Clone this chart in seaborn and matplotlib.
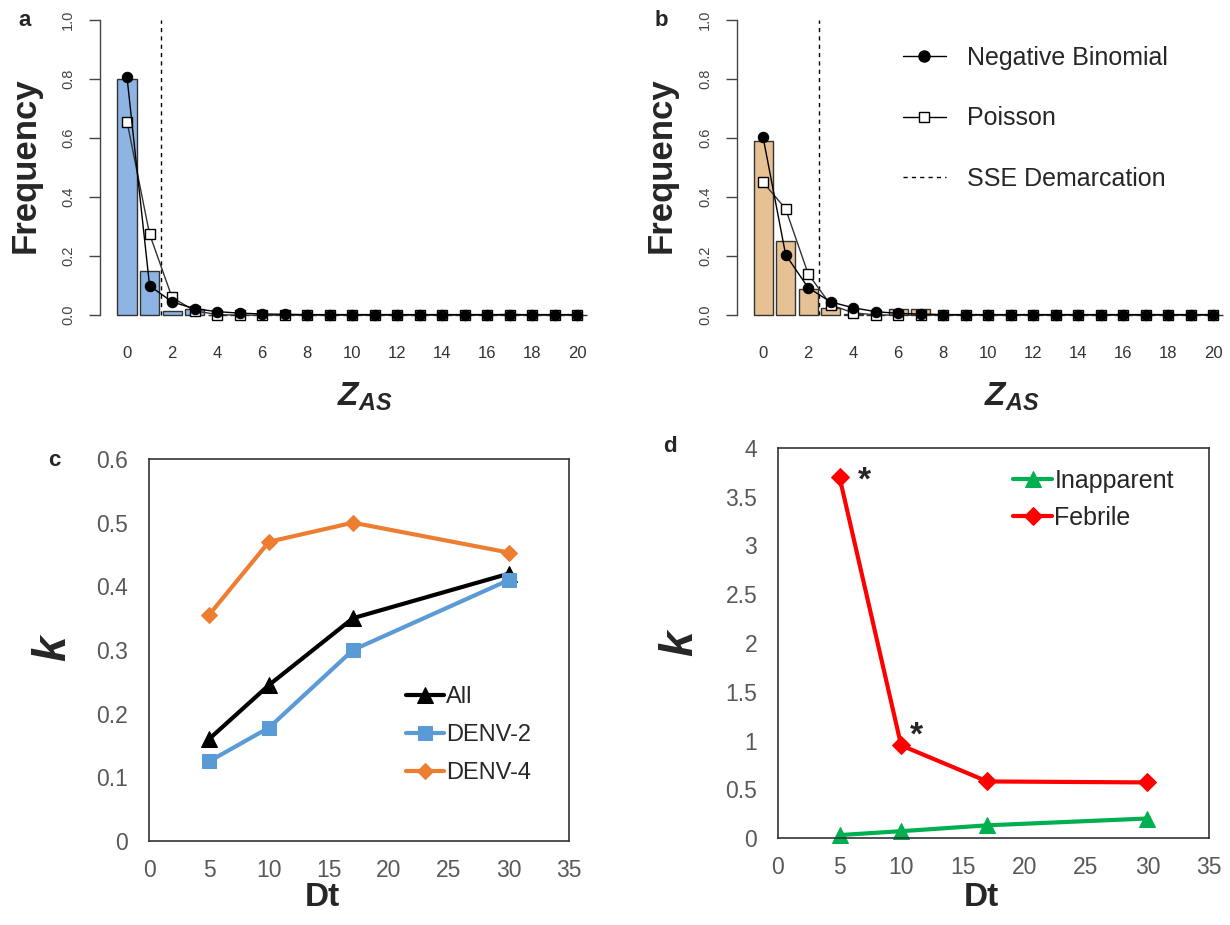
import numpy as np
import pandas as pd
import matplotlib
matplotlib.use("Agg")
import matplotlib.pyplot as plt
from matplotlib.lines import Line2D
import seaborn as sns

sns.set_theme(style="white")
plt.rcParams['font.family'] = ['Liberation Sans', 'DejaVu Sans']
plt.rcParams['mathtext.fontset'] = 'custom'
plt.rcParams['mathtext.rm'] = 'Liberation Sans'
plt.rcParams['mathtext.it'] = 'Liberation Sans:italic:bold'
plt.rcParams['mathtext.bf'] = 'Liberation Sans:bold'

# ---------------- data ----------------
z_values = list(range(21))
freq_a = [0.80, 0.15, 0.015, 0.02, 0, 0, 0, 0, 0, 0, 0, 0, 0, 0, 0, 0, 0, 0.005, 0, 0, 0]
nb_a = [0.805, 0.10, 0.045, 0.022, 0.012, 0.007, 0.004, 0.003, 0.002, 0.002, 0.002,
        0.002, 0.002, 0.002, 0.002, 0.002, 0.002, 0.002, 0.002, 0.002, 0.002]
pois_a = [0.655, 0.275, 0.06, 0.015, 0.002, 0, 0, 0, 0, 0, 0, 0, 0, 0, 0, 0, 0, 0, 0, 0, 0]
sse_a = 1.5

freq_b = [0.59, 0.25, 0.09, 0.025, 0.004, 0, 0.02, 0.02, 0, 0, 0, 0, 0, 0, 0, 0, 0, 0, 0, 0, 0]
nb_b = [0.602, 0.205, 0.093, 0.045, 0.025, 0.012, 0.006, 0.004, 0.002, 0.002, 0.002,
        0.002, 0.002, 0.002, 0.002, 0.002, 0.002, 0.002, 0.002, 0.002, 0.002]
pois_b = [0.45, 0.36, 0.14, 0.035, 0.008, 0.001, 0, 0, 0, 0, 0, 0, 0, 0, 0, 0, 0, 0, 0, 0, 0]
sse_b = 2.5

dt = [5, 10, 17, 30]
k_all = [0.16, 0.245, 0.35, 0.42]
k_denv2 = [0.125, 0.178, 0.30, 0.41]
k_denv4 = [0.355, 0.47, 0.50, 0.453]

k_inapparent = [0.03, 0.07, 0.13, 0.20]
k_febrile = [3.70, 0.95, 0.58, 0.57]
star_points = [0, 1]  # indices of febrile points flagged with *

freq_ticks = [0.0, 0.2, 0.4, 0.6, 0.8, 1.0]
z_ticks = list(range(0, 21, 2))
dt_ticks = [0, 5, 10, 15, 20, 25, 30, 35]
c_ticks = [0, 0.1, 0.2, 0.3, 0.4, 0.5, 0.6]
c_ticklabels = ["0", "0.1", "0.2", "0.3", "0.4", "0.5", "0.6"]
d_ticks = [0, 0.5, 1, 1.5, 2, 2.5, 3, 3.5, 4]
d_ticklabels = ["0", "0.5", "1", "1.5", "2", "2.5", "3", "3.5", "4"]

# ---------------- figure ----------------
W, H = 1230, 925
fig = plt.figure(figsize=(W / 100, H / 100), dpi=100)


def px_axes(l, t, r, b):
    return fig.add_axes([l / W, 1 - b / H, (r - l) / W, (b - t) / H])


def hist_panel(ax, freq, nb, pois, sse, color, xlim):
    sns.barplot(x=z_values, y=freq, native_scale=True, width=0.85, color=color,
                saturation=1, edgecolor="#333333", linewidth=1.0, ax=ax, zorder=2)
    sns.lineplot(x=z_values, y=pois, color="#333333", linewidth=1.0, marker="s",
                 markersize=6.5, markerfacecolor="white", markeredgecolor="black",
                 markeredgewidth=1.0, ax=ax, zorder=3, clip_on=False)
    sns.lineplot(x=z_values, y=nb, color="black", linewidth=1.0, marker="o",
                 markersize=7.5, markerfacecolor="black", markeredgecolor="black",
                 ax=ax, zorder=4, clip_on=False)
    ax.plot([sse, sse], [0, 1], color="black", linewidth=1.0, linestyle=(0, (3, 3)), zorder=1)
    ax.set_xlim(*xlim)
    ax.set_ylim(-0.04, 1.04)
    for s in ["top", "right", "bottom"]:
        ax.spines[s].set_visible(False)
    ax.spines["left"].set_bounds(0, 1)
    ax.spines["left"].set_color("#444444")
    ax.spines["left"].set_linewidth(1.0)
    ax.set_yticks(freq_ticks)
    ax.set_yticklabels([f"{v:.1f}" for v in freq_ticks], rotation=90, va="center",
                       fontsize=10.5, color="#444444")
    ax.tick_params(axis="y", length=8, width=1, color="#444444", pad=10, left=True)
    ax.set_xticks(z_ticks)
    ax.set_xticklabels([str(v) for v in z_ticks], fontsize=12, color="#333333")
    ax.tick_params(axis="x", length=0, pad=14)
    ax.set_xlabel("")
    ax.set_ylabel("")
    ax.grid(False)
    ax.patch.set_alpha(0)


ax_a = px_axes(100, 8, 600, 327)
hist_panel(ax_a, freq_a, nb_a, pois_a, sse_a, "#8EB4E3", (-1.2, 21.0))
ax_b = px_axes(737, 8, 1228, 327)
hist_panel(ax_b, freq_b, nb_b, pois_b, sse_b, "#E6C193", (-1.16, 20.65))

# legend for panel b
handles_b = [
    Line2D([], [], color="black", lw=1, marker="o", markersize=8, markerfacecolor="black"),
    Line2D([], [], color="black", lw=1, marker="s", markersize=7, markerfacecolor="white"),
    Line2D([], [], color="black", lw=1, linestyle=(0, (3, 3))),
]
ax_b.legend(handles_b, ["Negative Binomial", "Poisson", "SSE Demarcation"],
            loc="upper left", bbox_to_anchor=(903 / W, 1 - 46 / H), bbox_transform=fig.transFigure,
            frameon=False, fontsize=18, labelspacing=1.45, handlelength=1.7, handletextpad=0.85,
            borderpad=0, borderaxespad=0)

for xc in (365, 1012):
    fig.text(xc / W, 1 - 397 / H, r"$Z_{AS}$", fontsize=24, ha="center", va="center")
for xc in (25, 661):
    fig.text(xc / W, 1 - 165 / H, "Frequency", fontsize=25, fontweight="bold",
             rotation=90, ha="center", va="center")


def line_panel(ax, yticks, yticklabels, ylim):
    ax.set_xlim(0, 35)
    ax.set_ylim(*ylim)
    ax.set_xticks(dt_ticks)
    ax.set_xticklabels([str(v) for v in dt_ticks], fontsize=16.5, color="#595959")
    ax.set_yticks(yticks)
    ax.set_yticklabels(yticklabels, fontsize=16.5, color="#595959")
    ax.tick_params(axis="y", length=0, pad=15)
    ax.tick_params(axis="x", length=0, pad=13)
    for s in ax.spines.values():
        s.set_visible(True)
        s.set_color("#333333")
        s.set_linewidth(1.2)
    ax.set_xlabel("")
    ax.set_ylabel("")
    ax.grid(False)


# panel c
ax_c = px_axes(149, 459, 569, 841)
series_c = [("All", k_all, "black", "^", 11), ("DENV-2", k_denv2, "#5B9BD5", "s", 10),
            ("DENV-4", k_denv4, "#ED7D31", "D", 8)]
for name, vals, col, mk, ms in series_c:
    sns.lineplot(x=dt, y=vals, color=col, linewidth=3, marker=mk, markersize=ms,
                 markeredgecolor=col, markerfacecolor=col, label=name, ax=ax_c, clip_on=False)
line_panel(ax_c, c_ticks, c_ticklabels, (0, 0.6))
ax_c.legend(loc="upper left", bbox_to_anchor=(406 / W, 1 - 686 / H), bbox_transform=fig.transFigure,
            frameon=False, fontsize=17, labelspacing=0.68, handlelength=1.6, handletextpad=0.1,
            borderpad=0, borderaxespad=0)

# panel d
ax_d = px_axes(778, 448, 1209, 838)
series_d = [("Inapparent", k_inapparent, "#00B050", "^", 11), ("Febrile", k_febrile, "#FF0000", "D", 9)]
for name, vals, col, mk, ms in series_d:
    sns.lineplot(x=dt, y=vals, color=col, linewidth=3, marker=mk, markersize=ms,
                 markeredgecolor=col, markerfacecolor=col, label=name, ax=ax_d, clip_on=False)
line_panel(ax_d, d_ticks, d_ticklabels, (0, 4))
ax_d.legend(loc="upper left", bbox_to_anchor=(1013 / W, 1 - 469 / H), bbox_transform=fig.transFigure,
            frameon=False, fontsize=18, labelspacing=0.52, handlelength=1.56, handletextpad=0.1,
            borderpad=0, borderaxespad=0)
star_offsets = [(18, -3), (11, 7)]
for i, off in zip(star_points, star_offsets):
    ax_d.annotate("*", (dt[i], k_febrile[i]), xytext=off, textcoords="offset points",
                  fontsize=24, fontweight="bold", ha="center", va="center")

for xc, yc in ((53, 648), (680, 643)):
    fig.text(xc / W, 1 - yc / H, "k", fontsize=33, fontweight="bold", fontstyle="italic",
             rotation=90, ha="center", va="center")
for xc in (322, 981):
    fig.text(xc / W, 1 - 897 / H, "Dt", fontsize=24, fontweight="bold", ha="center", va="center")

for letter, (x, y) in zip("abcd", [(25, 21), (661, 20), (54, 461), (670, 447)]):
    fig.text(x / W, 1 - y / H, letter, fontsize=16, fontweight="bold", ha="center", va="center")

fig.savefig("out.png", dpi=100)
